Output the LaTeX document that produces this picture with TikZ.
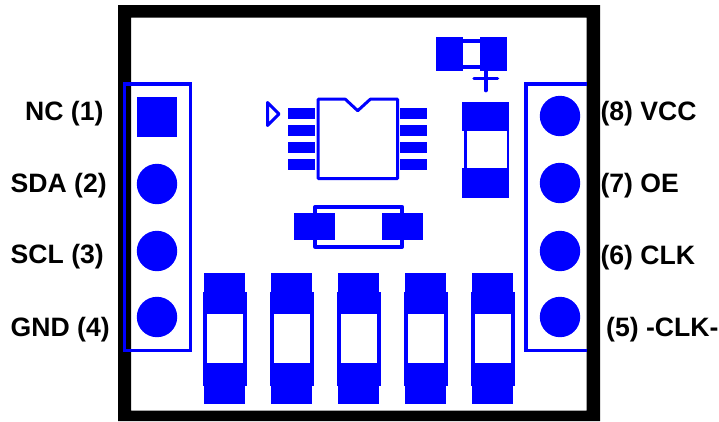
\documentclass[tikz,border=0pt]{standalone}
\usepackage{fontspec}
\setmainfont{Liberation Sans}
\definecolor{pcb}{RGB}{0,0,255}
\tikzset{
  outl/.style={draw=pcb,line width=3pt,line join=round},
  lbl/.style={font=\fontsize{26.6}{28}\selectfont\bfseries,text=black,inner sep=0pt,anchor=base west},
}
\newcommand{\chipres}[1]{%
  \fill[pcb] (#1-20.2,273.3) rectangle (#1+20.2,404);
  \fill[pcb] (#1-22,292.3) rectangle (#1+22.2,385.7);
  \fill[white] (#1-18,314) rectangle (#1+18,363.3);
}
\begin{document}
\begin{tikzpicture}[x=1pt,y=-1pt]
\useasboundingbox (0,0) rectangle (719,421);
\fill[white] (0,0) rectangle (719,421);
% board
\fill[black,even odd rule] (118,5) rectangle (600,421) (131,17.5) rectangle (586.7,410.7);
% headers
\draw[pcb,line width=3.5pt] (124.7,84) rectangle (190.3,350.5);
\draw[pcb,line width=3.5pt] (586.7,84) -- (526,84) -- (526,350.5) -- (586.7,350.5);
\fill[pcb] (137,97) rectangle (177,137);
\foreach \p in {184,251,317} \fill[pcb] (157,\p) circle (20.2);
\foreach \p in {116,183,251,317} \fill[pcb] (560,\p) circle (20.2);
% polarised cap
\draw[pcb,line width=3.5pt] (460,41) rectangle (482,67);
\fill[pcb] (436,37) rectangle (463,70.7);
\fill[pcb] (480,37) rectangle (506.7,70.7);
\draw[pcb,line width=3.5pt,line cap=round] (474,78.3) -- (497.5,78.3);
\draw[pcb,line width=3.7pt,line cap=round] (485.7,71) -- (485.7,90.5);
% tall part
\fill[pcb] (462,102.3) rectangle (509.3,131);
\fill[pcb] (462,168.3) rectangle (509.3,198.3);
\fill[pcb] (463.7,131) rectangle (466.7,168.3);
\fill[pcb] (506.7,131) rectangle (509.3,168.3);
% IC
\draw[outl] (318.2,99.2) -- (345.3,99.2) -- (357.7,110.7) -- (370.3,99.2) -- (397.5,99.2) -- (397.5,178.5) -- (318.2,178.5) -- cycle;
\foreach \y/\h in {108.3/10.4,125.3/10.7,142/10.7,159.3/10.7} {
  \fill[pcb] (288.3,\y) rectangle +(26.7,\h);
  \fill[pcb] (400,\y) rectangle +(27.3,\h);
}
\draw[outl] (267.5,102.5) -- (279,114) -- (267.5,125.5) -- cycle;
% horizontal part
\draw[pcb,line width=3.5pt,line join=round] (315.2,206.8) rectangle (402.2,247);
\fill[pcb] (294.3,213.3) rectangle (335.3,240);
\fill[pcb] (381.7,213.3) rectangle (422.7,240);
% bottom row
\chipres{224.5}
\chipres{291.5}
\chipres{358.5}
\chipres{425.5}
\chipres{492.5}
% labels
\node[lbl] (n1) at (25,120.5) {NC (1)};
\node[lbl] (n2) at (10.5,192.3) {SDA (2)};
\node[lbl] (n3) at (10.5,263.8) {SCL (3)};
\node[lbl] (n4) at (10.5,336) {GND (4)};
\node[lbl] (n8) at (600.3,120.7) {(8) VCC};
\node[lbl] (n7) at (600.3,192.7) {(7) OE};
\node[lbl] (n6) at (600.3,264) {(6) CLK};
\node[lbl] (n5) at (606,336.7) {(5) -CLK-};
\end{tikzpicture}
\end{document}
